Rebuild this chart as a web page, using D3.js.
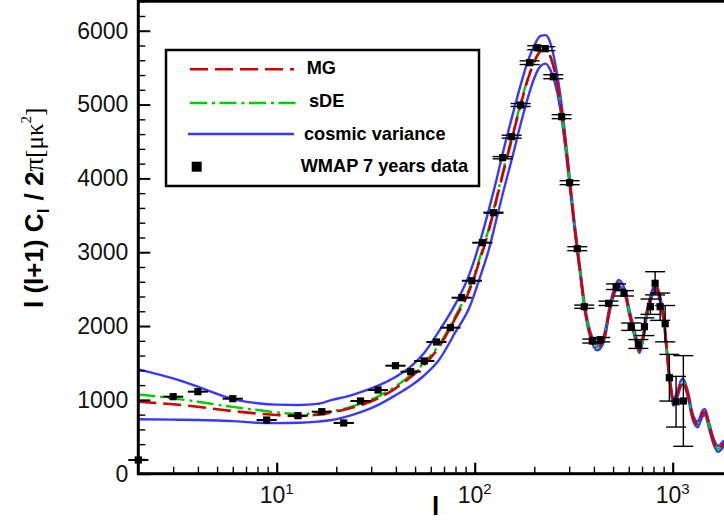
<!DOCTYPE html>
<html><head><meta charset="utf-8">
<script src="https://cdn.jsdelivr.net/npm/d3@7"></script>
<style>
html,body{margin:0;padding:0;background:#fff;}
svg{display:block;}
</style></head>
<body><div id="chart"></div>
<script>
// ---------------- data ----------------
// WMAP 7-year binned points
const dataL = [2,3,4,6,8.9,12.8,16.9,21.8,26.5,32.5,39.8,47.5,55.6,64.1,75.4,85.9,96.8,109.3,124.4,138.4,153.7,170.6,189.4,207,227.3,249.5,274.8,301.5,329.6,357.5,392.4,430.6,474,518,567.6,617,671,720,772,815,864,916,962,1040,1132];
const dataValues = [186,1043,1111,1016,727,786,840,687,985,1134,1463,1382,1527,1784,1978,2384,2614,3129,3535,4280,4565,4994,5567,5770,5757,5377,4836,3942,3048,2262,1797,1815,2308,2533,2443,1991,1757,1991,2262,2579,2262,2032,1300,975,985];
const dataErrors = [4,4,4,4,4,4,4,4,4,4,4,4,4,4,4,4,4,4,6,15,20,20,25,27,27,27,27,27,27,22,27,30,30,38,36,50,60,120,104,157,185,246,316,343,614];

// model curves sampled at multipoles
const modelL = [2,3,4,5,6,8,10,13,16,19,23,27,33,40,47,55,66,80,94,106,118,128,140,155,170,185,200,215,228,240,255,270,285,300,320,340,360,385,416,445,461,474,500,533,565,582,600,620,654,679,715,735,765,793,818,860,873,907,933,962,993,1006,1060,1102,1128,1190,1262,1337,1417,1456,1531,1622,1699,1760,1815];
const mgValues = [975,940,907,872,848,815,795,782,798,830,880,935,1030,1160,1300,1460,1715,2110,2480,2890,3300,3680,4100,4560,4980,5330,5580,5720,5740,5660,5420,5050,4560,4020,3330,2760,2240,1870,1712,1800,1960,2150,2420,2585,2500,2400,2220,2060,1810,1676,1900,2127,2330,2465,2535,2390,2308,2037,1676,1314,1043,962,1089,1224,1246,1089,772,669,818,832,637,412,335,370,412];
const sdeValues = [1075,1020,975,935,905,862,830,809,818,845,895,955,1055,1185,1325,1490,1745,2140,2510,2920,3330,3710,4130,4590,5000,5345,5590,5725,5742,5660,5420,5050,4560,4020,3330,2760,2240,1870,1712,1800,1960,2150,2420,2585,2500,2400,2220,2060,1810,1676,1900,2127,2330,2465,2535,2390,2308,2037,1676,1314,1043,962,1089,1224,1246,1089,772,669,818,832,637,412,335,370,412];
const cvUpper = [1414,1290,1178,1080,1010,955,935,930,945,1000,1050,1111,1200,1314,1440,1620,1930,2300,2700,3130,3580,3950,4390,4850,5250,5580,5800,5930,5940,5850,5560,5150,4640,4080,3380,2800,2280,1910,1750,1840,2000,2190,2460,2625,2540,2440,2260,2100,1850,1716,1940,2167,2370,2505,2575,2430,2348,2077,1716,1354,1083,1000,1129,1264,1286,1129,812,709,858,872,677,452,375,410,452];
const cvLower = [737,732,727,720,712,690,685,690,705,727,780,840,940,1066,1180,1320,1540,1920,2250,2650,3040,3420,3840,4290,4720,5080,5360,5520,5555,5480,5280,4950,4480,3960,3280,2720,2200,1830,1672,1760,1920,2110,2380,2545,2460,2360,2180,2020,1770,1636,1860,2087,2290,2425,2495,2350,2268,1997,1636,1274,1003,922,1049,1184,1206,1049,732,629,778,792,597,372,295,330,372];

const yTickValues = [0,1000,2000,3000,4000,5000,6000];
const xTickValues = [10,100,1000];
const xTickExponents = ["1","2","3"];
const legendLabels = ["MG","sDE","cosmic variance","WMAP 7 years data"];

// ---------------- layout ----------------
const W = 724, H = 520;
const svg = d3.select("#chart").append("svg").attr("width", W).attr("height", H);
const x = d3.scaleLog().domain([2, 2000]).range([138.3, 732.3]);
const y = d3.scaleLinear().domain([0, 6400]).range([473.7, 1.2]);
const x0 = x.range()[0], x1 = x.range()[1], yB = y.range()[0], yT = y.range()[1];

const RED = "#d00000", GREEN = "#00cc00", BLUE = "#3838ff";
const sansFont = "'Liberation Sans', Arial, Helvetica, sans-serif";
const serifFont = "'Liberation Serif', 'Times New Roman', serif";

svg.append("defs").append("clipPath").attr("id","plotclip")
  .append("rect").attr("x", x0).attr("y", yT).attr("width", x1-x0).attr("height", yB-yT);

// curves
const plot = svg.append("g").attr("clip-path","url(#plotclip)");
const lineGen = vals => d3.line()
  .x((d,i) => x(modelL[i])).y(d => y(d)).curve(d3.curveMonotoneX)(vals);

plot.append("path").attr("d", lineGen(cvUpper)).attr("fill","none").attr("stroke",BLUE).attr("stroke-width",2.4);
plot.append("path").attr("d", lineGen(cvLower)).attr("fill","none").attr("stroke",BLUE).attr("stroke-width",2.4);
plot.append("path").attr("d", lineGen(sdeValues)).attr("fill","none").attr("stroke",GREEN).attr("stroke-width",2.4)
  .attr("stroke-dasharray","17,5,3,4.5");
plot.append("path").attr("d", lineGen(mgValues)).attr("fill","none").attr("stroke",RED).attr("stroke-width",2.6)
  .attr("stroke-dasharray","18,7");

// error bars and points
const pts = svg.append("g");
dataL.forEach((l,i) => {
  const cx = x(l), v = dataValues[i], e = dataErrors[i];
  const yt = y(v+e), yb = y(v-e);
  pts.append("line").attr("x1",cx).attr("x2",cx).attr("y1",yt).attr("y2",yb).attr("stroke","#000").attr("stroke-width",1.4);
  pts.append("line").attr("x1",cx-10).attr("x2",cx+10).attr("y1",yt).attr("y2",yt).attr("stroke","#000").attr("stroke-width",1.4);
  pts.append("line").attr("x1",cx-10).attr("x2",cx+10).attr("y1",yb).attr("y2",yb).attr("stroke","#000").attr("stroke-width",1.4);
});
pts.selectAll("rect.pt").data(dataL).join("rect").attr("class","pt")
  .attr("x", d => x(d)-3.6).attr("y", (d,i) => y(dataValues[i])-3.6)
  .attr("width",7.2).attr("height",7.2).attr("fill","#000");

// axes: major/minor ticks, inward
const yMinor = d3.range(0, 6401, 200).filter(v => v % 1000 !== 0);
const gy = svg.append("g").attr("transform",`translate(${x0},0)`)
  .call(d3.axisLeft(y).tickValues(yTickValues).tickSize(-12).tickSizeOuter(0).tickPadding(10).tickFormat(d3.format("d")));
gy.select(".domain").remove();
gy.selectAll(".tick line").attr("stroke-width",2);
gy.selectAll(".tick text").attr("font-family",sansFont).attr("font-size",23).attr("fill","#111");
const gym = svg.append("g").attr("transform",`translate(${x0},0)`)
  .call(d3.axisLeft(y).tickValues(yMinor).tickSize(-7).tickSizeOuter(0).tickFormat(""));
gym.select(".domain").remove();
gym.selectAll(".tick line").attr("stroke-width",1.4);

const xMinor = [];
[1,10,100,1000].forEach(dec => { for (let k=2;k<=9;k++){ const v=k*dec; if (v>2 && v<2000) xMinor.push(v);} });
const gx = svg.append("g").attr("transform",`translate(0,${yB})`)
  .call(d3.axisBottom(x).tickValues(xTickValues).tickSize(-11).tickSizeOuter(0).tickFormat(""));
gx.select(".domain").remove();
gx.selectAll(".tick line").attr("stroke-width",2.2);
const gxm = svg.append("g").attr("transform",`translate(0,${yB})`)
  .call(d3.axisBottom(x).tickValues(xMinor).tickSize(-7).tickSizeOuter(0).tickFormat(""));
gxm.select(".domain").remove();
gxm.selectAll(".tick line").attr("stroke-width",1.4);

// x tick labels 10^n
xTickValues.forEach((v,i) => {
  const t = svg.append("text").attr("x", x(v)).attr("y", 502.7).attr("text-anchor","middle")
    .attr("font-family",sansFont).attr("font-size",23).attr("fill","#111");
  t.append("tspan").text("10");
  t.append("tspan").attr("font-size",15).attr("dy",-9).text(xTickExponents[i]);
});

// frame
svg.append("rect").attr("x",x0).attr("y",yT).attr("width",x1-x0).attr("height",yB-yT)
  .attr("fill","none").attr("stroke","#000").attr("stroke-width",3);

// axis titles
svg.append("text").attr("x",435.7).attr("y",515).attr("text-anchor","middle")
  .attr("font-family",sansFont).attr("font-weight","bold").attr("font-size",26).text("l");

const yl = svg.append("text").attr("transform","translate(43,308) rotate(-90)")
  .attr("font-family",sansFont).attr("font-weight","bold").attr("font-size",26).attr("fill","#000");
yl.append("tspan").text("l (l+1) C");
yl.append("tspan").attr("font-size",17).attr("dy",6).text("l");
yl.append("tspan").attr("dy",-6).attr("dx",1).text(" / 2");
yl.append("tspan").attr("font-family",serifFont).attr("font-weight","normal").attr("font-size",27).text("π");
yl.append("tspan").attr("font-family",serifFont).attr("font-weight","normal").attr("font-size",25).text("[μκ");
yl.append("tspan").attr("font-family",serifFont).attr("font-weight","normal").attr("font-size",15).attr("dy",-12).text("2");
yl.append("tspan").attr("font-family",serifFont).attr("font-weight","normal").attr("font-size",25).attr("dy",12).text("]");

// legend
const lg = svg.append("g");
lg.append("rect").attr("x",166).attr("y",50).attr("width",313).attr("height",136)
  .attr("fill","#fff").attr("stroke","#000").attr("stroke-width",2.5);
const rowY = [69.3,103,134,166.7];
const textX = [306.7,309,304,300.7];
const textY = [73.5,107,139.5,171.5];
lg.append("line").attr("x1",190).attr("x2",294).attr("y1",rowY[0]).attr("y2",rowY[0]).attr("stroke",RED).attr("stroke-width",2.6).attr("stroke-dasharray","18,7");
lg.append("line").attr("x1",190).attr("x2",296).attr("y1",rowY[1]).attr("y2",rowY[1]).attr("stroke",GREEN).attr("stroke-width",2.4).attr("stroke-dasharray","17,5,3,4.5");
lg.append("line").attr("x1",188).attr("x2",294).attr("y1",rowY[2]).attr("y2",rowY[2]).attr("stroke",BLUE).attr("stroke-width",2.4);
lg.append("rect").attr("x",191.7).attr("y",rowY[3]-5).attr("width",10).attr("height",10).attr("fill","#000");
legendLabels.forEach((s,i) => {
  lg.append("text").attr("x",textX[i]).attr("y",textY[i]).attr("font-family",sansFont)
    .attr("font-weight","bold").attr("font-size",18.2).attr("fill","#000").text(s);
});
</script></body></html>
